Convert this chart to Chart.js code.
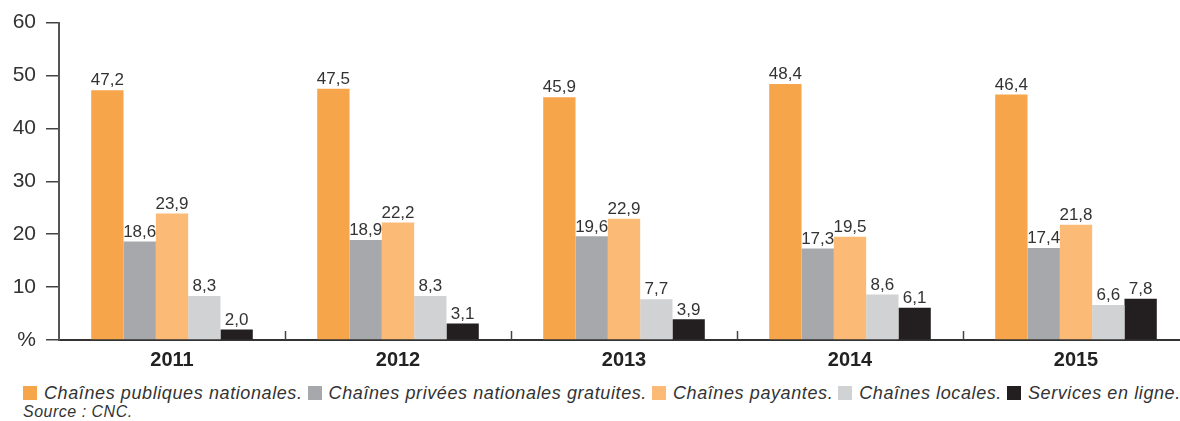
<!DOCTYPE html>
<html lang="fr">

<head>
    <meta charset="UTF-8">
    <title>Chaînes - parts</title>
    <script src="https://cdn.jsdelivr.net/npm/chart.js"></script>
    <style>
        html, body { margin: 0; padding: 0; background: #fff; overflow: hidden; }
        #wrap { position: relative; width: 1192px; height: 372px; }
        #legend {
            position: absolute; left: 23px; top: 383px;
            font-family: 'Liberation Sans', Arial, sans-serif; font-style: italic;
            font-size: 18px; letter-spacing: 0.6px; color: #333; white-space: nowrap;
        }
        #legend span.item { display: inline-block; margin-right: 5px; }
        #legend span.sw { display: inline-block; width: 14px; height: 14px; margin-right: 7px; vertical-align: -1px; }
        #source {
            position: absolute; left: 23px; top: 403px;
            font-family: 'Liberation Sans', Arial, sans-serif; font-style: italic;
            font-size: 16px; letter-spacing: 0.5px; color: #333;
        }
    </style>
</head>

<body>
    <div id="wrap"><canvas id="myChart"></canvas></div>
    <div id="legend"></div>
    <div id="source">Source : CNC.</div>

    <script>
        const years = ['2011', '2012', '2013', '2014', '2015'];
        const seriesNames = [
            'Chaînes publiques nationales.',
            'Chaînes privées nationales gratuites.',
            'Chaînes payantes.',
            'Chaînes locales.',
            'Services en ligne.'
        ];
        const publiques = [47.2, 47.5, 45.9, 48.4, 46.4];
        const privees = [18.6, 18.9, 19.6, 17.3, 17.4];
        const payantes = [23.9, 22.2, 22.9, 19.5, 21.8];
        const locales = [8.3, 8.3, 7.7, 8.6, 6.6];
        const enLigne = [2.0, 3.1, 3.9, 6.1, 7.8];
        const colors = ['#f7a54a', '#a7a8ab', '#fbbb76', '#d1d2d4', '#231f20'];
        const yTicks = [0, 10, 20, 30, 40, 50, 60];

        const allSeries = [publiques, privees, payantes, locales, enLigne];

        // legend in html, below the chart
        const legend = document.getElementById('legend');
        seriesNames.forEach((name, i) => {
            const item = document.createElement('span');
            item.className = 'item';
            item.innerHTML = `<span class="sw" style="background:${colors[i]}"></span>${name}`;
            legend.appendChild(item);
        });

        // value labels above the bars, comma as decimal separator
        const valueLabels = {
            id: 'valueLabels',
            afterDatasetsDraw(chart) {
                const ctx = chart.ctx;
                ctx.save();
                ctx.font = '17px "Liberation Sans", Arial, sans-serif';
                ctx.fillStyle = '#333';
                ctx.textAlign = 'center';
                ctx.textBaseline = 'bottom';
                chart.data.datasets.forEach((ds, i) => {
                    chart.getDatasetMeta(i).data.forEach((bar, j) => {
                        ctx.fillText(ds.data[j].toFixed(1).replace('.', ','), bar.x, bar.y - 1);
                    });
                });
                ctx.restore();
            }
        };

        // small separator ticks between years, standing on the x axis
        const separators = {
            id: 'separators',
            afterDraw(chart) {
                const x = chart.scales.x;
                const ctx = chart.ctx;
                const half = (x.getPixelForValue(1) - x.getPixelForValue(0)) / 2;
                ctx.save();
                ctx.strokeStyle = '#444';
                ctx.lineWidth = 1.5;
                for (let i = 0; i < years.length - 1; i++) {
                    const px = Math.round(x.getPixelForValue(i) + half) + 0.5;
                    ctx.beginPath();
                    ctx.moveTo(px, x.top);
                    ctx.lineTo(px, x.top - 9);
                    ctx.stroke();
                }
                ctx.restore();
            }
        };

        const canvas = document.getElementById('myChart');
        new Chart(canvas, {
            type: 'bar',
            data: {
                labels: years,
                datasets: allSeries.map((d, i) => ({
                    label: seriesNames[i],
                    data: d,
                    backgroundColor: colors[i],
                    borderWidth: 0,
                    categoryPercentage: 0.715,
                    barPercentage: 1
                }))
            },
            options: {
                responsive: true,
                maintainAspectRatio: false,
                animation: false,
                layout: { padding: { top: 20, right: 3, bottom: 0, left: 0 } },
                plugins: {
                    legend: { display: false },
                    tooltip: { enabled: false }
                },
                scales: {
                    x: {
                        afterFit: (s) => { s.height = 32; },
                        grid: { display: false, drawTicks: false },
                        border: { display: true, color: '#333', width: 2 },
                        ticks: {
                            padding: 8,
                            color: '#222',
                            font: { family: '"Liberation Sans", Arial, sans-serif', size: 20, weight: 'bold' }
                        }
                    },
                    y: {
                        min: 0,
                        max: 60,
                        afterFit: (s) => { s.width = 59; },
                        afterBuildTicks: (s) => { s.ticks = yTicks.map(v => ({ value: v })); },
                        grid: { drawOnChartArea: false, drawTicks: true, tickLength: 13, color: '#444', lineWidth: 1.5 },
                        border: { display: true, color: '#555', width: 2 },
                        ticks: {
                            padding: 10,
                            color: '#333',
                            font: { family: '"Liberation Sans", Arial, sans-serif', size: 21 },
                            callback: (v) => v === 0 ? '%' : v
                        }
                    }
                }
            },
            plugins: [valueLabels, separators]
        });
    </script>
</body>

</html>
